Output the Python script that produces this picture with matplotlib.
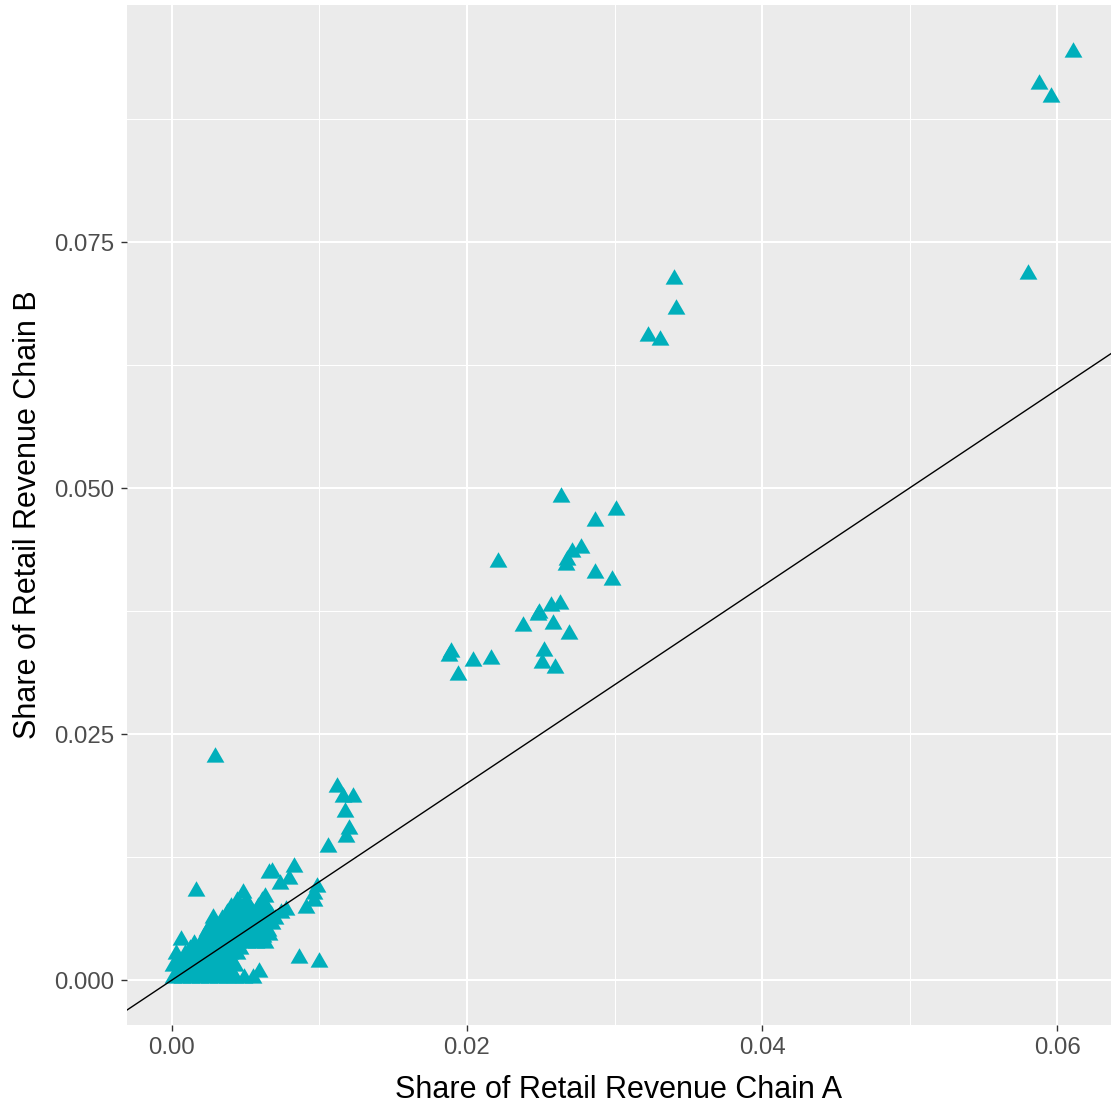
import matplotlib
matplotlib.use("Agg")
import matplotlib.pyplot as plt
from matplotlib.ticker import FixedLocator

plt.rcParams['font.family'] = ['Liberation Sans', 'DejaVu Sans']

# Share of retail revenue (chain A, chain B)
share_a = [
    # dense cluster near origin
    0.0001, 0.0007, 0.0013, 0.0019, 0.0025, 0.0031, 0.0037, 0.0043, 0.0049, 0.0055, 0.0059,
    0.0004, 0.0010, 0.0016, 0.0022, 0.0028, 0.0034, 0.0040,
    0.0001, 0.0007, 0.0013, 0.0019, 0.0025, 0.0031, 0.0037, 0.0043,
    0.0004, 0.0010, 0.0016, 0.0022, 0.0028, 0.0034, 0.0040,
    0.0003, 0.0009, 0.0015, 0.0021, 0.0027, 0.0033, 0.0039, 0.0044,
    0.0012, 0.0018, 0.0024, 0.0030, 0.0036, 0.0042, 0.0046,
    0.0006, 0.0015, 0.0021, 0.0027, 0.0033, 0.0039, 0.0045, 0.0051, 0.0057, 0.0063,
    0.0022, 0.0026, 0.0032, 0.0038, 0.0044, 0.0050, 0.0056, 0.0062, 0.0066,
    0.0024, 0.0029, 0.0035, 0.0041, 0.0047, 0.0053, 0.0059, 0.0065,
    0.0026, 0.0032, 0.0038, 0.0044, 0.0050, 0.0056, 0.0062, 0.0068,
    0.0028, 0.0034, 0.0040, 0.0046, 0.0052, 0.0058, 0.0064, 0.0070,
    0.0037, 0.0043, 0.0049, 0.0055, 0.0061, 0.0067,
    0.0040, 0.0046, 0.0052, 0.0058, 0.0064,
    0.0044, 0.0050, 0.0061,
    0.0048, 0.0063,
    # small scattered points
    0.0016, 0.0077, 0.0074, 0.0091, 0.0096, 0.0096, 0.0098,
    0.0068, 0.0066, 0.0073, 0.0079, 0.0083,
    0.0086, 0.0100,
    0.0106, 0.0112, 0.0116, 0.0123, 0.0117, 0.0120, 0.0118, 0.0029,
    # middle group
    0.0264, 0.0301, 0.0287, 0.0221, 0.0271, 0.0277, 0.0268, 0.0267, 0.0287,
    0.0298, 0.0263, 0.0257, 0.0249, 0.0248, 0.0258, 0.0238, 0.0269, 0.0252,
    0.0251, 0.0260, 0.0188, 0.0189, 0.0204, 0.0216, 0.0194,
    # upper group
    0.0340, 0.0342, 0.0323, 0.0331,
    0.0580, 0.0611, 0.0588, 0.0596,
]
share_b = [
    0.0002, 0.0002, 0.0002, 0.0002, 0.0002, 0.0002, 0.0002, 0.0002, 0.0002, 0.0002, 0.0008,
    0.0008, 0.0008, 0.0008, 0.0008, 0.0008, 0.0008, 0.0008,
    0.0014, 0.0014, 0.0014, 0.0014, 0.0014, 0.0014, 0.0014, 0.0014,
    0.0020, 0.0020, 0.0020, 0.0020, 0.0020, 0.0020, 0.0020,
    0.0026, 0.0026, 0.0026, 0.0026, 0.0026, 0.0026, 0.0026, 0.0026,
    0.0032, 0.0032, 0.0032, 0.0032, 0.0032, 0.0032, 0.0032,
    0.0041, 0.0037, 0.0038, 0.0038, 0.0038, 0.0038, 0.0038, 0.0038, 0.0038, 0.0038,
    0.0044, 0.0044, 0.0044, 0.0044, 0.0044, 0.0044, 0.0044, 0.0044, 0.0046,
    0.0050, 0.0050, 0.0050, 0.0050, 0.0050, 0.0050, 0.0050, 0.0050,
    0.0055, 0.0056, 0.0056, 0.0056, 0.0056, 0.0056, 0.0056, 0.0057,
    0.0063, 0.0062, 0.0062, 0.0062, 0.0062, 0.0062, 0.0062, 0.0062,
    0.0068, 0.0068, 0.0068, 0.0068, 0.0068, 0.0066,
    0.0074, 0.0074, 0.0074, 0.0074, 0.0074,
    0.0080, 0.0080, 0.0080,
    0.0088, 0.0084,
    0.0090, 0.0071, 0.0068, 0.0073, 0.0080, 0.0087, 0.0095,
    0.0110, 0.0109, 0.0098, 0.0103, 0.0115,
    0.0022, 0.0018,
    0.0135, 0.0196, 0.0186, 0.0186, 0.0171, 0.0153, 0.0145, 0.0227,
    0.0491, 0.0478, 0.0466, 0.0425, 0.0435, 0.0439, 0.0427, 0.0422, 0.0414,
    0.0407, 0.0382, 0.0380, 0.0373, 0.0371, 0.0362, 0.0360, 0.0352, 0.0334,
    0.0322, 0.0317, 0.0329, 0.0333, 0.0324, 0.0326, 0.0310,
    0.0712, 0.0682, 0.0655, 0.0650,
    0.0718, 0.0943, 0.0911, 0.0897,
]

x_ticks = [0.00, 0.02, 0.04, 0.06]
x_labels = ["0.00", "0.02", "0.04", "0.06"]
y_ticks = [0.000, 0.025, 0.050, 0.075]
y_labels = ["0.000", "0.025", "0.050", "0.075"]

W, H = 1111, 1105
fig = plt.figure(figsize=(W / 100, H / 100), dpi=100)
fig.patch.set_facecolor("white")
ax = fig.add_axes([127 / W, (H - 1025) / H, (W - 127) / W, (1025 - 5) / H])
ax.set_facecolor("#EBEBEB")
for s in ax.spines.values():
    s.set_visible(False)

ax.set_xlim(-0.00305, 0.06366)
ax.set_ylim(-0.00457, 0.09909)

ax.xaxis.set_major_locator(FixedLocator(x_ticks))
ax.yaxis.set_major_locator(FixedLocator(y_ticks))
ax.xaxis.set_minor_locator(FixedLocator([0.01, 0.03, 0.05]))
ax.yaxis.set_minor_locator(FixedLocator([0.0125, 0.0375, 0.0625, 0.0875]))
ax.set_xticklabels(x_labels)
ax.set_yticklabels(y_labels)

ax.grid(which="major", color="white", linewidth=1.5)
ax.grid(which="minor", color="white", linewidth=0.75)
ax.set_axisbelow(True)

ax.tick_params(which="major", length=4, width=1, color="#333333",
               labelsize=17.3, labelcolor="#4D4D4D", pad=5)
ax.tick_params(which="minor", length=0)

# triangle marker (equilateral, centred on centroid like R's pch 17)
tri = [(0, 1.555), (-1.3468, -0.7776), (1.3468, -0.7776), (0, 1.555)]
ax.plot(share_a, share_b, linestyle="none", marker=tri, markersize=14.8,
        markerfacecolor="#00AFBB", markeredgewidth=0, zorder=3)

ax.axline((0, 0), slope=1, color="black", linewidth=1.0, zorder=4)

ax.set_xlabel("Share of Retail Revenue Chain A", fontsize=22, color="black", labelpad=11)
ax.set_ylabel("Share of Retail Revenue Chain B", fontsize=22, color="black", labelpad=8)

fig.savefig("out.png", dpi=100, facecolor="white")
